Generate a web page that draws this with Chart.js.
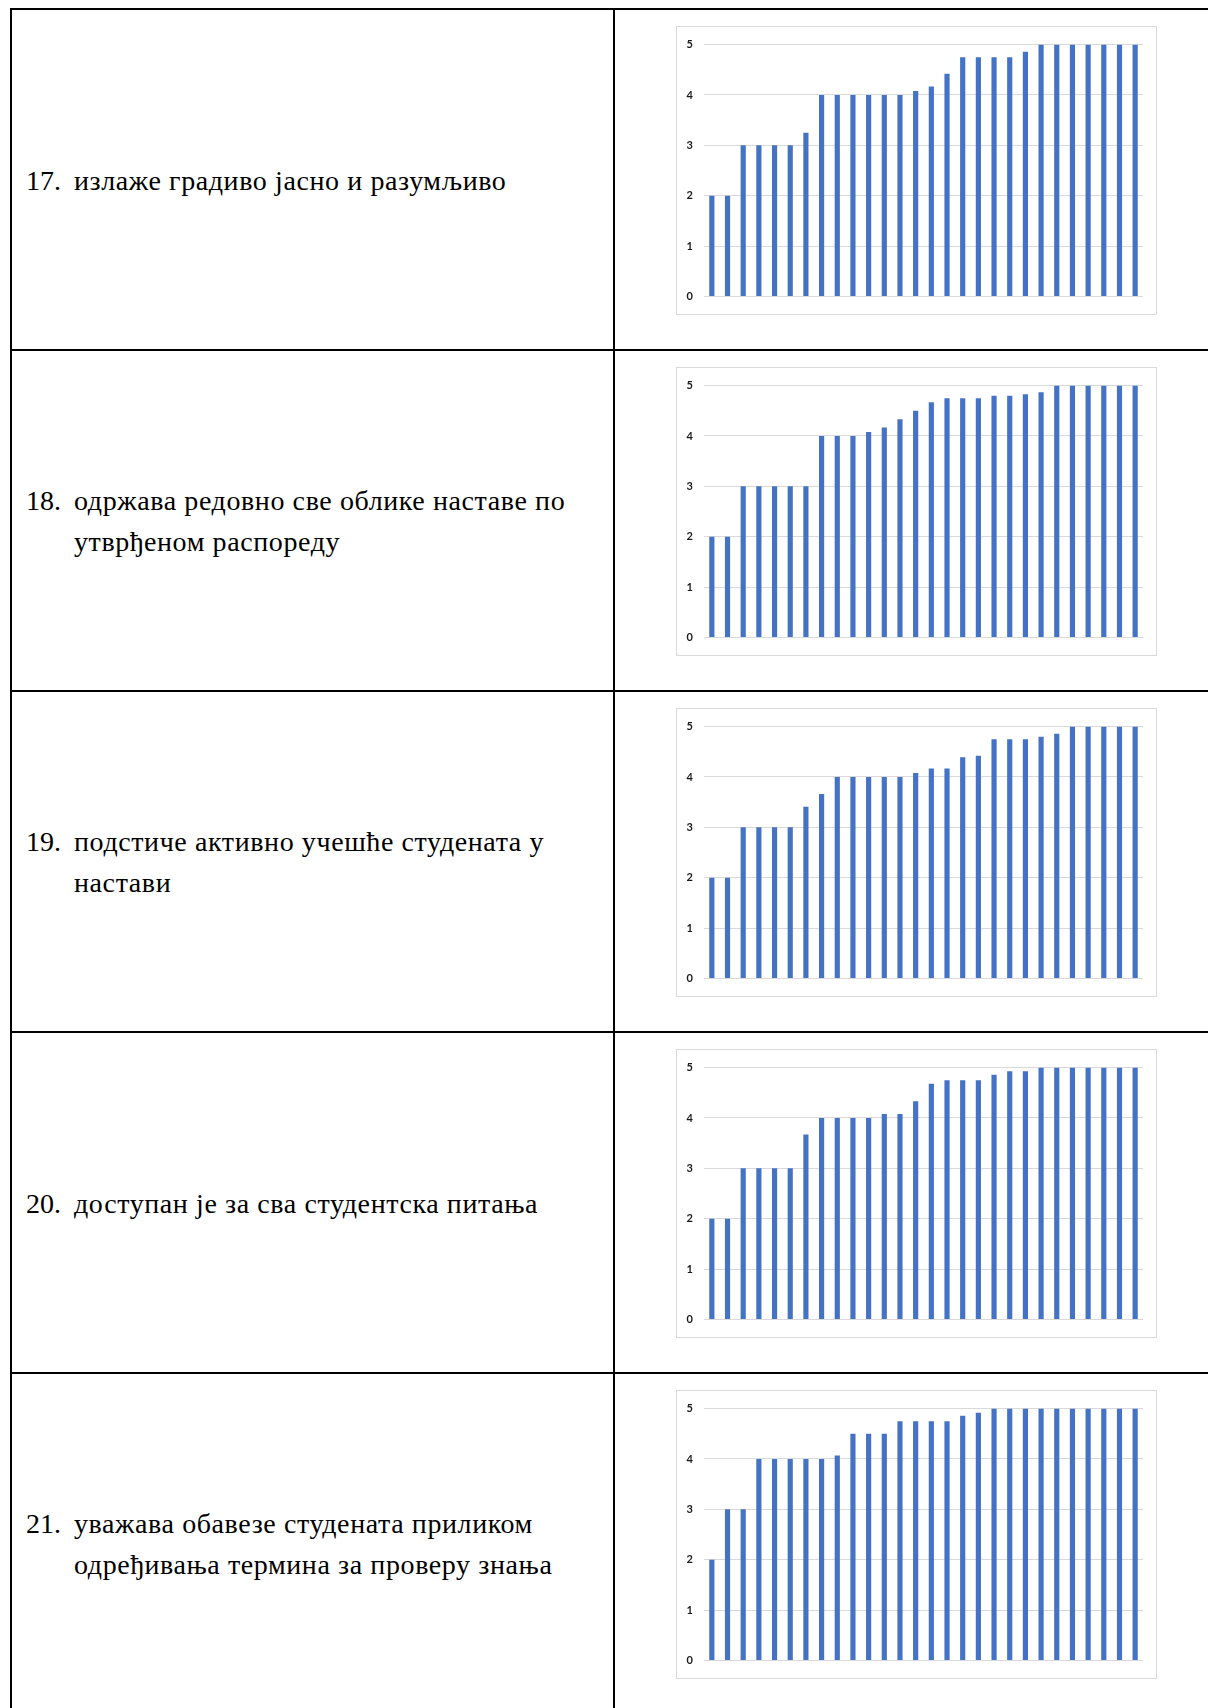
<!DOCTYPE html>
<html lang="sr">
<head>
<meta charset="utf-8">
<title>Оцене наставника</title>
<script src="https://cdn.jsdelivr.net/npm/chart.js@4.4.1/dist/chart.umd.min.js"></script>
<style>
  html, body { margin: 0; padding: 0; background: #fff; }
  body { width: 1208px; height: 1708px; overflow: hidden; position: relative; }
  .linija { position: absolute; background: #000; }
  .celija {
    position: absolute; left: 12px; width: 601px; height: 340px;
    display: flex; align-items: center;
    font-family: "Liberation Serif", "Times New Roman", serif;
    font-size: 28px; line-height: 41px; letter-spacing: 0.6px; color: #000;
  }
  .stavka { display: flex; align-items: flex-start; }
  .broj { width: 48px; padding-left: 14px; flex: none; letter-spacing: 0; }
  .okvir {
    position: absolute; left: 676px; width: 481px; height: 289px;
    border: 1px solid #d9d9d9; box-sizing: border-box; background: #fff;
  }
  .okvir canvas { display: block; }
</style>
</head>
<body>
<script>
// редни бројеви и текст питања (ред по ред)
const brojevi = ["17.", "18.", "19.", "20.", "21."];
const pitanja = [
  ["излаже градиво јасно и разумљиво"],
  ["одржава редовно све облике наставе по", "утврђеном распореду"],
  ["подстиче активно учешће студената у", "настави"],
  ["доступан је за сва студентска питања"],
  ["уважава обавезе студената приликом", "одређивања термина за проверу знања"]
];

// 28 одговора по питању
const ispitanici = ["1", "2", "3", "4", "5", "6", "7", "8", "9", "10", "11", "12", "13", "14",
  "15", "16", "17", "18", "19", "20", "21", "22", "23", "24", "25", "26", "27", "28"];

const ocene17 = [2, 2, 3, 3, 3, 3, 3.25, 4, 4, 4, 4, 4, 4, 4.08, 4.17, 4.42, 4.75, 4.75, 4.75, 4.75,
  4.86, 5, 5, 5, 5, 5, 5, 5];
const ocene18 = [2, 2, 3, 3, 3, 3, 3, 4, 4, 4, 4.08, 4.17, 4.33, 4.5, 4.67, 4.75, 4.75, 4.75, 4.8, 4.8,
  4.83, 4.87, 5, 5, 5, 5, 5, 5];
const ocene19 = [2, 2, 3, 3, 3, 3, 3.41, 3.66, 4, 4, 4, 4, 4, 4.08, 4.17, 4.17, 4.39, 4.42, 4.75, 4.75,
  4.75, 4.8, 4.86, 5, 5, 5, 5, 5];
const ocene20 = [2, 2, 3, 3, 3, 3, 3.67, 4, 4, 4, 4, 4.08, 4.08, 4.33, 4.68, 4.75, 4.75, 4.75, 4.86, 4.93,
  4.93, 5, 5, 5, 5, 5, 5, 5];
const ocene21 = [2, 3, 3, 4, 4, 4, 4, 4, 4.07, 4.5, 4.5, 4.5, 4.75, 4.75, 4.75, 4.75, 4.86, 4.92, 5, 5,
  5, 5, 5, 5, 5, 5, 5, 5];

const yOznake = [0, 1, 2, 3, 4, 5];

const sveOcene = [ocene17, ocene18, ocene19, ocene20, ocene21];

const prviRed = 9;
const visinaReda = 341;

const dodajLiniju = (x, y, w, h) => {
  const d = document.createElement("div");
  d.className = "linija";
  d.style.left = x + "px";
  d.style.top = y + "px";
  d.style.width = w + "px";
  d.style.height = h + "px";
  document.body.appendChild(d);
};

// оквир табеле
dodajLiniju(10, 8, 1198, 2);
dodajLiniju(10, 8, 2, 1700);
dodajLiniju(613, 8, 2, 1700);

const nacrtajGrafikon = (canvas, ocene) => {
  new Chart(canvas.getContext("2d"), {
    type: "bar",
    data: {
      labels: ispitanici,
      datasets: [
        {
          data: ocene,
          backgroundColor: "#4472c4",
          borderWidth: 0,
          categoryPercentage: 1,
          barPercentage: 0.33,
        },
      ],
    },
    options: {
      responsive: false,
      animation: false,
      events: [],
      layout: { padding: { left: 0, right: 13, top: 14, bottom: 14 } },
      plugins: { legend: { display: false }, tooltip: { enabled: false } },
      scales: {
        x: { display: false },
        y: {
          min: yOznake[0],
          max: yOznake[yOznake.length - 1],
          afterFit: (scale) => { scale.width = 27; },
          border: { display: false },
          grid: { color: "#d9d9d9", lineWidth: 1, drawTicks: false },
          ticks: {
            stepSize: 1,
            padding: 11,
            color: "#1a1a1a",
            font: { family: "Lato, 'Open Sans', sans-serif", size: 11, weight: "bold" },
          },
        },
      },
    },
  });
};

brojevi.forEach((broj, i) => {
  const centar = prviRed + i * visinaReda;
  if (i > 0) dodajLiniju(10, centar - 1, 1198, 2);

  const celija = document.createElement("div");
  celija.className = "celija";
  celija.style.top = centar + 1 + "px";
  const stavka = document.createElement("div");
  stavka.className = "stavka";
  const b = document.createElement("span");
  b.className = "broj";
  b.textContent = broj;
  const t = document.createElement("span");
  t.innerHTML = pitanja[i].join("<br>");
  stavka.appendChild(b);
  stavka.appendChild(t);
  celija.appendChild(stavka);
  document.body.appendChild(celija);

  const okvir = document.createElement("div");
  okvir.className = "okvir";
  okvir.style.top = centar + 17 + "px";
  const canvas = document.createElement("canvas");
  canvas.width = 479;
  canvas.height = 287;
  okvir.appendChild(canvas);
  document.body.appendChild(okvir);

  nacrtajGrafikon(canvas, sveOcene[i]);
});
</script>
</body>
</html>
